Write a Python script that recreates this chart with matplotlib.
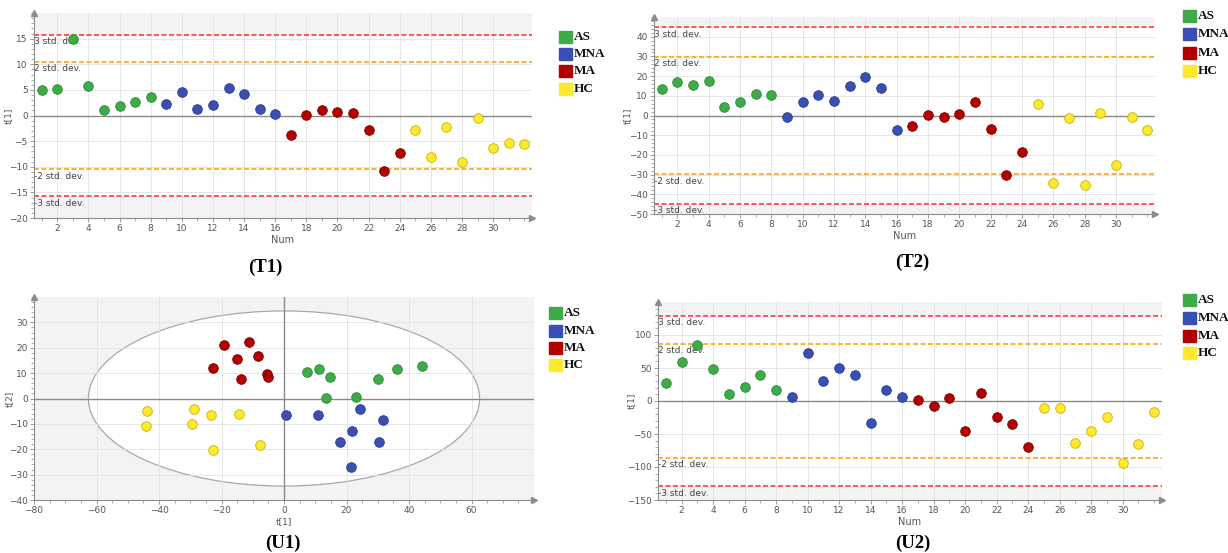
import matplotlib
matplotlib.use('Agg')
import matplotlib.pyplot as plt
from matplotlib.patches import Ellipse, Rectangle
from matplotlib.ticker import MultipleLocator, AutoMinorLocator

W, H = 1228, 553

groups = ['AS', 'MNA', 'MA', 'HC']
group_colors = ['#3faa48', '#3a4fb3', '#b00000', '#ffe92e']
edge_colors = ['#2e8a38', '#2a3b8c', '#800000', '#c8b400']

sample_num = list(range(1, 33))
sample_group = [0] * 8 + [1] * 8 + [2] * 8 + [3] * 8

t1_scores = [5.0, 5.1, 15.0, 5.8, 1.0, 1.8, 2.7, 3.7, 2.2, 4.5, 1.2, 2.1, 5.3, 4.2, 1.3, 0.3,
             -3.8, 0.1, 1.0, 0.6, 0.4, -2.8, -10.8, -7.3, -2.8, -8.0, -2.3, -9.0, -0.4, -6.3, -5.3, -5.6]
t1_sd2, t1_sd3 = 10.5, 15.8

t2_scores = [13.5, 17.2, 15.5, 17.7, 4.1, 6.6, 10.8, 10.2, -0.7, 6.6, 10.2, 7.5, 15.2, 19.5, 14.2, -7.6,
             -5.2, 0.1, -0.9, 1.0, 6.6, -6.6, -30.4, -18.3, 6.0, -34.1, -1.2, -35.1, 1.3, -25.2, -0.9, -7.6]
t2_sd2, t2_sd3 = 29.8, 44.8

u2_scores = [26.8, 59.1, 85.4, 48.5, 10.6, 20.7, 39.9, 17.2, 6.6, 73.2, 30.3, 50.0, 39.9, -32.8, 17.2, 5.6,
             2.0, -7.1, 4.0, -46.0, 12.6, -24.7, -34.8, -70.2, -11.1, -11.1, -64.1, -46.0, -23.7, -93.4, -65.2, -16.2]
u2_sd2, u2_sd3 = 86.2, 129.5

u1_x = [7.2, 11.3, 14.8, 13.3, 23.1, 30.0, 36.2, 44.3,
        0.6, 10.8, 24.3, 31.6, 21.8, 17.8, 30.5, 21.5,
        -19.1, -11.2, -14.9, -8.3, -22.6, -13.8, -5.5, -5.1,
        -44.0, -44.2, -28.7, -29.4, -23.5, -14.3, -22.6, -7.8]
u1_y = [10.4, 11.5, 8.5, 0.3, 0.5, 7.5, 11.8, 12.9,
        -6.4, -6.4, -4.0, -8.4, -12.7, -17.0, -17.0, -26.9,
        21.2, 22.3, 15.7, 16.8, 12.2, 7.6, 9.5, 8.3,
        -4.8, -10.7, -4.0, -10.1, -6.5, -6.3, -20.4, -18.3]
u1_group = [0] * 8 + [1] * 8 + [2] * 8 + [3] * 8
u1_ellipse_half = (62.6, 34.5)

TICK_C = '#555555'
AX_C = '#8c8c8c'
GRID_C = '#e2e2e2'
BG = '#f3f3f3'

fig = plt.figure(figsize=(W / 100, H / 100), dpi=100)
fig.patch.set_facecolor('white')


def add_ax(left, right, top, bottom):
    return fig.add_axes([left / W, 1 - bottom / H, (right - left) / W, (bottom - top) / H])


def style(ax):
    for s in ['top', 'right']:
        ax.spines[s].set_visible(False)
    for s in ['left', 'bottom']:
        ax.spines[s].set_color(AX_C)
        ax.spines[s].set_linewidth(0.8)
    ax.tick_params(which='major', labelsize=6.5, colors=AX_C, labelcolor=TICK_C, length=3, width=0.6, pad=1.5)
    ax.tick_params(which='minor', colors=AX_C, length=2, width=0.5)
    ax.set_facecolor(BG)
    ax.grid(True, which='major', color=GRID_C, lw=0.6, zorder=0)
    ax.set_axisbelow(True)
    ax.plot(0, 1, '^', transform=ax.transAxes, clip_on=False, color=AX_C, ms=4.5, zorder=5)
    ax.plot(1, 0, '>', transform=ax.transAxes, clip_on=False, color=AX_C, ms=4.5, zorder=5)


def score_plot(ax, scores, sd2, sd3, ylim, ystep, yticks_top, ylab_x):
    style(ax)
    ax.set_xlim(0.5, 32.5)
    ax.set_ylim(*ylim)
    ax.axhspan(-sd3, sd3, color='white', zorder=0.1)
    ax.xaxis.set_minor_locator(MultipleLocator(1))
    ax.set_xticks([x for x in range(2, 31, 2)])
    ax.set_yticks([v for v in range(ylim[0], yticks_top + 1, ystep)])
    ax.yaxis.set_minor_locator(AutoMinorLocator(5))
    ax.axhline(0, color='#8a8a8a', lw=1.0, zorder=1)
    for v, c, lab in [(sd3, '#ff3b30', '3 std. dev.'), (sd2, '#ffa31a', '2 std. dev.'),
                      (-sd2, '#ffa31a', '-2 std. dev.'), (-sd3, '#ff3b30', '-3 std. dev.')]:
        ax.axhline(v, color=c, lw=1.2, ls=(0, (3, 1.5)), zorder=1.5)
        ax.text(0.52, v - (ylim[1] - ylim[0]) * 0.012, lab, fontsize=6.5, color='#444444',
                va='top', ha='left', zorder=2)
    for g in range(4):
        xs = [n for n, gg in zip(sample_num, sample_group) if gg == g]
        ys = [s for s, gg in zip(scores, sample_group) if gg == g]
        ax.scatter(xs, ys, s=48, color=group_colors[g], edgecolors=edge_colors[g],
                   linewidths=0.6, zorder=3)
    ax.set_xlabel('Num', fontsize=7, color=TICK_C, labelpad=1)
    ax.set_ylabel('t[1]', fontsize=6.5, color=TICK_C)
    ax.yaxis.set_label_coords(ylab_x, 0.5)


def legend(x, y_rows):
    for g, y in enumerate(y_rows):
        fig.patches.append(Rectangle((x / W, 1 - (y + 6) / H), 13 / W, 12 / H,
                                     transform=fig.transFigure, color=group_colors[g], zorder=5))
        fig.text((x + 15) / W, 1 - y / H, groups[g], fontsize=9.5, fontweight='bold',
                 family='Liberation Serif', va='center', ha='left', color='#111111')


# T1
ax1 = add_ax(34, 532, 13, 218)
score_plot(ax1, t1_scores, t1_sd2, t1_sd3, (-20, 20), 5, 15, -0.042)
legend(559, [37, 54, 71, 89])
fig.text(265 / W, 1 - 267 / H, '(T1)', fontsize=13.5, fontweight='bold', family='Liberation Serif',
         ha='center', va='center')

# T2
ax2 = add_ax(654, 1155, 17, 214)
score_plot(ax2, t2_scores, t2_sd2, t2_sd3, (-50, 50), 10, 40, -0.044)
legend(1183, [16, 34, 53, 71])
fig.text(912 / W, 1 - 262 / H, '(T2)', fontsize=13.5, fontweight='bold', family='Liberation Serif',
         ha='center', va='center')

# U1
ax3 = add_ax(34, 534, 297, 500)
style(ax3)
ax3.set_xlim(-80, 80)
ax3.set_ylim(-40, 40)
ax3.set_xticks(list(range(-80, 61, 20)))
ax3.set_yticks(list(range(-40, 31, 10)))
ax3.xaxis.set_minor_locator(AutoMinorLocator(4))
ax3.yaxis.set_minor_locator(AutoMinorLocator(5))
ax3.add_patch(Ellipse((0, 0), 2 * u1_ellipse_half[0], 2 * u1_ellipse_half[1], facecolor='white',
                      edgecolor='#a8a8a8', lw=0.9, zorder=0.5))
ax3.axhline(0, color='#8a8a8a', lw=1.0, zorder=1)
ax3.axvline(0, color='#8a8a8a', lw=1.0, zorder=1)
for g in range(4):
    xs = [v for v, gg in zip(u1_x, u1_group) if gg == g]
    ys = [v for v, gg in zip(u1_y, u1_group) if gg == g]
    ax3.scatter(xs, ys, s=48, color=group_colors[g], edgecolors=edge_colors[g], linewidths=0.6, zorder=3)
ax3.set_xlabel('t[1]', fontsize=6.5, color=TICK_C, labelpad=1)
ax3.set_ylabel('t[2]', fontsize=6.5, color=TICK_C)
ax3.yaxis.set_label_coords(-0.04, 0.5)
legend(549, [313, 331, 348, 365])
fig.text(283 / W, 1 - 543 / H, '(U1)', fontsize=13.5, fontweight='bold', family='Liberation Serif',
         ha='center', va='center')

# U2
ax4 = add_ax(658, 1162, 302, 500)
score_plot(ax4, u2_scores, u2_sd2, u2_sd3, (-150, 150), 50, 100, -0.044)
legend(1183, [300, 318, 336, 353])
fig.text(913 / W, 1 - 543 / H, '(U2)', fontsize=13.5, fontweight='bold', family='Liberation Serif',
         ha='center', va='center')

fig.savefig('out.png', dpi=100)
